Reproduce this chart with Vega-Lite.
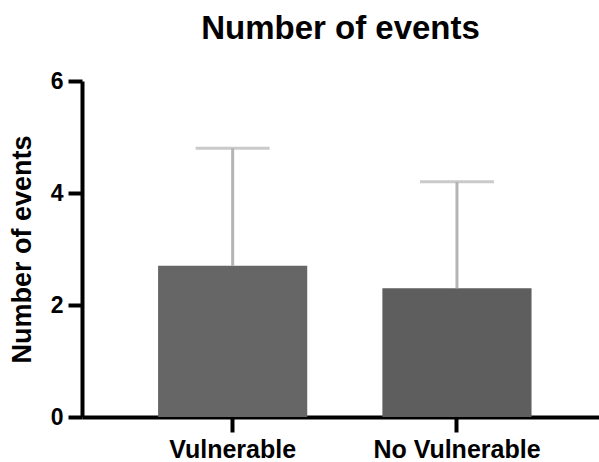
{
  "$schema": "https://vega.github.io/schema/vega-lite/v6.json",
  "width": 517,
  "height": 336,
  "autosize": "none",
  "padding": {"left": 82, "top": 81, "right": 0, "bottom": 45},
  "background": "white",
  "title": {
    "text": "Number of events",
    "font": "Liberation Sans",
    "fontSize": 33,
    "fontWeight": "bold",
    "color": "black",
    "anchor": "middle",
    "offset": 24
  },
  "data": {
    "values": [
      {"group": "Vulnerable", "mean": 2.7, "upper": 4.8},
      {"group": "No Vulnerable", "mean": 2.3, "upper": 4.2}
    ]
  },
  "encoding": {
    "x": {
      "field": "group",
      "type": "nominal",
      "sort": ["Vulnerable", "No Vulnerable"],
      "scale": {"paddingInner": 0.335, "paddingOuter": 0.32, "align": 0.53},
      "axis": {
        "title": null,
        "labelAngle": 0,
        "domainColor": "black",
        "domainWidth": 4,
        "tickColor": "black",
        "tickWidth": 4,
        "tickSize": 15,
        "labelFont": "Liberation Sans",
        "labelFontWeight": "bold",
        "labelFontSize": 25,
        "labelColor": "black",
        "labelPadding": 5
      }
    }
  },
  "layer": [
    {
      "mark": {"type": "bar"},
      "encoding": {
        "y": {
          "field": "mean",
          "type": "quantitative",
          "scale": {"domain": [0, 6], "nice": false},
          "axis": {
            "values": [0, 2, 4, 6],
            "format": "d",
            "grid": false,
            "title": "Number of events",
            "titleFont": "Liberation Sans",
            "titleFontWeight": "bold",
            "titleFontSize": 27,
            "titleColor": "black",
            "titlePadding": 14,
            "domainColor": "black",
            "domainWidth": 4,
            "tickColor": "black",
            "tickWidth": 4,
            "tickSize": 14,
            "labelFont": "Liberation Sans",
            "labelFontWeight": "bold",
            "labelFontSize": 23,
            "labelColor": "black",
            "labelPadding": 5
          }
        },
        "color": {
          "field": "group",
          "type": "nominal",
          "scale": {"domain": ["Vulnerable", "No Vulnerable"], "range": ["#666666", "#5e5e5e"]},
          "legend": null
        }
      }
    },
    {
      "mark": {"type": "rule", "color": "#b4b4b4", "strokeWidth": 3},
      "encoding": {
        "y": {"field": "mean", "type": "quantitative"},
        "y2": {"field": "upper"}
      }
    },
    {
      "mark": {"type": "tick", "color": "#b4b4b4", "thickness": 3, "size": 74},
      "encoding": {
        "y": {"field": "upper", "type": "quantitative"}
      }
    }
  ],
  "config": {"view": {"stroke": null}}
}
